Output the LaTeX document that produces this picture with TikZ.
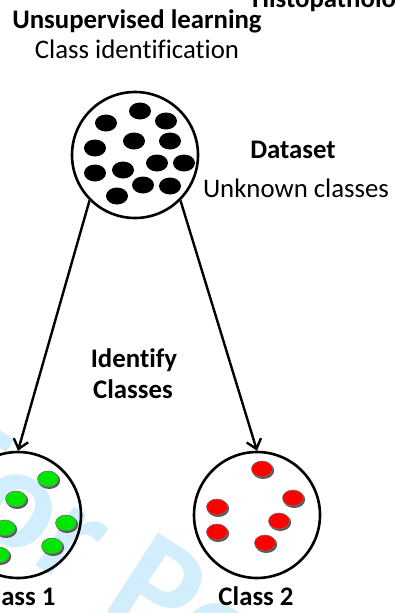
\documentclass[tikz,border=0pt]{standalone}
\usepackage{fontspec}
\setmainfont{Carlito}[Ligatures=NoCommon]
\usetikzlibrary{arrows.meta}
\definecolor{wmark}{RGB}{210,238,252}
\definecolor{dotgreen}{RGB}{0,230,0}
\definecolor{dotred}{RGB}{255,0,0}
\begin{document}
\begin{tikzpicture}[x=1pt,y=-1pt,
    every node/.style={font=\fontsize{26.8}{32}\selectfont,inner sep=0pt},
    hd/.style={font=\fontsize{26.8}{32}\selectfont\bfseries},
    set/.style={draw,circle,line width=2.6pt,minimum size=126pt},
    link/.style={line width=2.4pt,-{Straight Barb[length=9pt,width=15pt,line width=2.4pt]}}]
  \useasboundingbox (0,0) rectangle (394,613);
  \clip (0,0) rectangle (394,613);
  \node[rotate=-33,text=wmark,font=\fontsize{145}{145}\selectfont\bfseries,anchor=base west] (wm) at (-90,484) {For Peer Review};
  \node[hd,anchor=base west] (topcut) at (252,7) {Histopathology};
  \node[hd,anchor=base] (title) at (137,28) {Unsupervised learning};
  \node[anchor=base] (subtitle) at (137,58) {Class identification};
  \node[hd,anchor=base] (dset) at (293,158) {Dataset};
  \node[anchor=base] (dsetsub) at (296,197) {Unknown classes};
  \node[hd,anchor=base] (ident) at (134,367) {Identify};
  \node[hd,anchor=base] (idclasses) at (133,398) {Classes};
  \node[hd,anchor=base] (lab1) at (18,605) {Class 1};
  \node[hd,anchor=base] (lab2) at (256,605) {Class 2};
  \node[set] (data) at (135,155) {};
  \node[set] (c1) at (18,515) {};
  \node[set] (c2) at (257,515) {};
  \foreach \x/\y in {140/111,106/123,166/121,134/141,170/141,95/148,157/163,
      184/163,95/173,123/170,143/185,170/186,117/196}
    \fill (\x,\y) ellipse (11 and 8.5);
  \foreach \x/\y in {48/479,16/499,66/523,5/528,52/546,-1/555} {
    \fill[black!65] (\x+1.2,\y+1.5) ellipse (11 and 8.5);
    \filldraw[fill=dotgreen,draw=black!55,line width=0.6pt] (\x,\y) ellipse (10.5 and 8);
  }
  \foreach \x/\y in {262/469,293/498,217/507,279/521,217/532,265/543} {
    \fill[black!65] (\x+1.2,\y+1.5) ellipse (11 and 8.5);
    \filldraw[fill=dotred,draw=black!55,line width=0.6pt] (\x,\y) ellipse (10.5 and 8);
  }
  \begin{scope}[link]
    \draw (data.225) -- (c1.north);
    \draw (data.315) -- (c2.north);
  \end{scope}
\end{tikzpicture}
\end{document}
